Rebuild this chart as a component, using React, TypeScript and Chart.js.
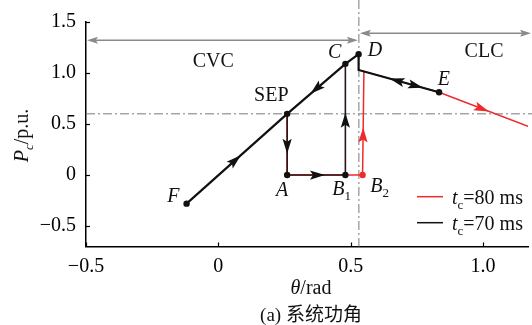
import React, { useEffect, useRef } from 'react';
import { Chart, registerables } from 'chart.js';

Chart.register(...registerables);

const SERIF = '"Liberation Serif", "Times New Roman", serif';
const CJK = '"Noto Sans CJK SC", "Noto Sans CJK JP", sans-serif';

// Axis ticks
const xTickValues = [-0.5, 0, 0.5, 1.0];
const xTickLabels = ['−0.5', '0', '0.5', '1.0'];
const yTickValues = [-0.5, 0, 0.5, 1.0, 1.5];
const yTickLabels = ['−0.5', '0', '0.5', '1.0', '1.5'];

// t_c = 70 ms trajectory (black): F -> SEP -> C -> D -> D' -> E
const blackTheta = [-0.12, 0.26, 0.48, 0.53, 0.53, 0.834];
const blackPower = [-0.28, 0.6, 1.09, 1.185, 1.03, 0.811];
// fault-on part (black): SEP -> A -> B1 -> C
const faultTheta = [0.26, 0.26, 0.48, 0.48];
const faultPower = [0.6, 0, 0, 1.09];
// t_c = 80 ms trajectory (red): SEP -> A -> B1 -> B2 -> up -> E -> beyond
const redTheta = [0.26, 0.26, 0.48, 0.545, 0.55, 0.834, 1.17];
const redPower = [0.6, 0, 0, 0, 1.016, 0.811, 0.477];

// Marked points F, SEP, A, B1, C, D, E
const markerTheta = [-0.12, 0.26, 0.26, 0.48, 0.48, 0.53, 0.834];
const markerPower = [-0.28, 0.6, 0, 0, 1.09, 1.185, 0.811];
// Marked point B2 (red)
const redMarkerTheta = [0.545];
const redMarkerPower = [0];

// Reference lines
const sepPower = 0.6;
const boundaryTheta = 0.531;

const RED = '#ee2a2a';
const BLACK = '#111111';
const GRAY = '#8a8a8a';
const FS = 20;

type Part = [string, string];

// arrowheads: segment start, segment end, fraction along segment for the tip
const arrowSpecs: { from: number[]; to: number[]; t: number; color: string }[] = [
  { from: [-0.12, -0.28], to: [0.26, 0.6], t: 0.54, color: BLACK },
  { from: [0.48, 1.09], to: [0.26, 0.6], t: 0.6, color: BLACK },
  { from: [0.26, 0.6], to: [0.26, 0], t: 0.65, color: BLACK },
  { from: [0.26, 0], to: [0.48, 0], t: 0.65, color: BLACK },
  { from: [0.48, 0], to: [0.48, 1.09], t: 0.56, color: BLACK },
  { from: [0.834, 0.811], to: [0.53, 1.03], t: 0.615, color: BLACK },
  { from: [0.53, 1.03], to: [0.834, 0.811], t: 0.8, color: BLACK },
  { from: [0.545, 0], to: [0.55, 1.016], t: 0.46, color: RED },
  { from: [0.834, 0.811], to: [1.17, 0.477], t: 0.56, color: RED },
];

const textLabels: { parts: Part[]; x: number; y: number }[] = [
  { parts: [['CVC', 'n']], x: -0.019, y: 1.124 },
  { parts: [['CLC', 'n']], x: 1.004, y: 1.217 },
  { parts: [['SEP', 'n']], x: 0.2, y: 0.793 },
  { parts: [['C', 'i']], x: 0.44, y: 1.212 },
  { parts: [['D', 'i']], x: 0.592, y: 1.227 },
  { parts: [['E', 'i']], x: 0.852, y: 0.949 },
  { parts: [['F', 'i']], x: -0.17, y: -0.198 },
  { parts: [['A', 'i']], x: 0.241, y: -0.14 },
  { parts: [['B', 'i'], ['1', 's']], x: 0.466, y: -0.129 },
  { parts: [['B', 'i'], ['2', 's']], x: 0.609, y: -0.1 },
];

function drawParts(ctx: CanvasRenderingContext2D, parts: Part[], cx: number, baseline: number, size: number, align = 'center') {
  const items = parts.map(([t, s]) => {
    const sub = s.startsWith('s');
    const it = s.includes('i');
    const sz = sub ? Math.round(size * 0.65) : size;
    return { t, sub, font: `${it ? 'italic ' : ''}${sz}px ${SERIF}`, w: 0 };
  });
  let w = 0;
  items.forEach((f) => {
    ctx.font = f.font;
    f.w = ctx.measureText(f.t).width;
    w += f.w;
  });
  let x = align === 'center' ? cx - w / 2 : cx;
  ctx.textAlign = 'left';
  ctx.textBaseline = 'alphabetic';
  items.forEach((f) => {
    ctx.font = f.font;
    ctx.fillText(f.t, x, baseline + (f.sub ? size * 0.25 : 0));
    x += f.w;
  });
}

function arrowHead(ctx: CanvasRenderingContext2D, x: number, y: number, ang: number, len: number, half: number, color: string) {
  ctx.save();
  ctx.translate(x, y);
  ctx.rotate(ang);
  ctx.beginPath();
  ctx.moveTo(0, 0);
  ctx.lineTo(-len, -half);
  ctx.lineTo(-len * 0.8, 0);
  ctx.lineTo(-len, half);
  ctx.closePath();
  ctx.fillStyle = color;
  ctx.fill();
  ctx.restore();
}

const overlay = {
  id: 'overlay',
  beforeDatasetsDraw(chart: any) {
    const { ctx, chartArea, scales } = chart;
    const xs = scales.x;
    const ys = scales.y;
    ctx.save();
    ctx.strokeStyle = '#7a7a7a';
    ctx.lineWidth = 1;
    ctx.setLineDash([9, 3, 2, 3]);
    const yp = ys.getPixelForValue(sepPower);
    ctx.beginPath();
    ctx.moveTo(chartArea.left, yp);
    ctx.lineTo(chart.width, yp);
    ctx.stroke();
    const xp = xs.getPixelForValue(boundaryTheta);
    ctx.beginPath();
    ctx.moveTo(xp, 0);
    ctx.lineTo(xp, chartArea.bottom);
    ctx.stroke();
    ctx.restore();
  },
  afterDatasetsDraw(chart: any) {
    const { ctx, chartArea, scales } = chart;
    const xs = scales.x;
    const ys = scales.y;
    const px = (v: number) => xs.getPixelForValue(v);
    const py = (v: number) => ys.getPixelForValue(v);
    ctx.save();

    // arrowheads on trajectories
    arrowSpecs.forEach((a) => {
      const x0 = px(a.from[0]), y0 = py(a.from[1]);
      const x1 = px(a.to[0]), y1 = py(a.to[1]);
      const tx = x0 + (x1 - x0) * a.t;
      const ty = y0 + (y1 - y0) * a.t;
      arrowHead(ctx, tx, ty, Math.atan2(y1 - y0, x1 - x0), 15, 4.6, a.color);
    });

    // gray region arrows
    ctx.strokeStyle = GRAY;
    ctx.lineWidth = 1.5;
    const cvcY = py(1.32);
    const clcY = py(1.39);
    const bx = px(boundaryTheta);
    ctx.beginPath();
    ctx.moveTo(chartArea.left + 4, cvcY);
    ctx.lineTo(bx - 4, cvcY);
    ctx.stroke();
    arrowHead(ctx, chartArea.left + 1, cvcY, Math.PI, 11, 3.5, GRAY);
    arrowHead(ctx, bx - 1, cvcY, 0, 11, 3.5, GRAY);
    ctx.beginPath();
    ctx.moveTo(bx + 4, clcY);
    ctx.lineTo(chart.width - 4, clcY);
    ctx.stroke();
    arrowHead(ctx, bx + 1, clcY, Math.PI, 11, 3.5, GRAY);
    arrowHead(ctx, chart.width - 1, clcY, 0, 11, 3.5, GRAY);

    // point / region labels
    ctx.fillStyle = '#111';
    textLabels.forEach((l) => {
      drawParts(ctx, l.parts, px(l.x), py(l.y) + FS * 0.33, FS);
    });

    // inward tick marks
    ctx.strokeStyle = '#000';
    ctx.lineWidth = 1.2;
    xTickValues.forEach((v) => {
      const x = Math.round(px(v)) + 0.5;
      ctx.beginPath();
      ctx.moveTo(x, chartArea.bottom);
      ctx.lineTo(x, chartArea.bottom - 4);
      ctx.stroke();
    });
    yTickValues.forEach((v) => {
      const y = Math.round(py(v)) + 0.5;
      ctx.beginPath();
      ctx.moveTo(chartArea.left, y);
      ctx.lineTo(chartArea.left + 4, y);
      ctx.stroke();
    });

    // legend
    const legY1 = 196.7;
    const legY2 = 222.7;
    ctx.lineWidth = 1.5;
    ctx.strokeStyle = RED;
    ctx.beginPath();
    ctx.moveTo(417, legY1);
    ctx.lineTo(443, legY1);
    ctx.stroke();
    ctx.strokeStyle = BLACK;
    ctx.beginPath();
    ctx.moveTo(417, legY2);
    ctx.lineTo(443, legY2);
    ctx.stroke();
    ctx.fillStyle = '#111';
    drawParts(ctx, [['t', 'i'], ['c', 's'], ['=80 ms', 'n']], 452, legY1 + 7, FS, 'left');
    drawParts(ctx, [['t', 'i'], ['c', 's'], ['=70 ms', 'n']], 452, legY2 + 7, FS, 'left');

    // axis titles
    drawParts(ctx, [['θ', 'i'], ['/rad', 'n']], 311, 294, FS);
    ctx.save();
    ctx.translate(28, 135.5);
    ctx.rotate(-Math.PI / 2);
    drawParts(ctx, [['P', 'i'], ['c', 'si'], ['/p.u.', 'n']], 0, 0, FS);
    ctx.restore();

    // caption
    ctx.font = `${FS - 1}px ${SERIF}`;
    const capA = '(a) ';
    const capB = '系统功角';
    const wA = ctx.measureText(capA).width;
    ctx.font = `${FS - 1}px ${CJK}`;
    const wB = ctx.measureText(capB).width;
    const cx = 311 - (wA + wB) / 2;
    ctx.textAlign = 'left';
    ctx.textBaseline = 'alphabetic';
    ctx.font = `${FS - 1}px ${SERIF}`;
    ctx.fillText(capA, cx, 321);
    ctx.font = `${FS - 1}px ${CJK}`;
    ctx.fillText(capB, cx + wA, 321);

    ctx.restore();
  },
};

const zip = (xs: number[], ys: number[]) => xs.map((x, i) => ({ x, y: ys[i] }));

const tickLabel = (vals: number[], labels: string[]) => (v: any) => {
  const i = vals.findIndex((t) => Math.abs(t - Number(v)) < 1e-9);
  return i >= 0 ? labels[i] : '';
};

export default function App() {
  const ref = useRef<HTMLCanvasElement | null>(null);
  useEffect(() => {
    document.body.style.margin = '0';
    const canvas = ref.current;
    if (!canvas) return;
    const chart = new Chart(canvas, {
      type: 'scatter',
      data: {
        datasets: [
          {
            label: 'tc=80 ms',
            data: zip(redTheta, redPower),
            showLine: true,
            borderColor: RED,
            borderWidth: 1.5,
            pointRadius: 0,
            order: 5,
          },
          {
            label: 'tc=70 ms',
            data: zip(blackTheta, blackPower),
            showLine: true,
            borderColor: BLACK,
            borderWidth: 2.2,
            pointRadius: 0,
            order: 3,
          },
          {
            label: 'fault',
            data: zip(faultTheta, faultPower),
            showLine: true,
            borderColor: '#2a1616',
            borderWidth: 1.6,
            pointRadius: 0,
            order: 3,
          },
          {
            label: 'markers',
            data: zip(markerTheta, markerPower),
            showLine: false,
            pointRadius: 3.2,
            pointBackgroundColor: BLACK,
            pointBorderWidth: 0,
            order: 1,
          },
          {
            label: 'B2',
            data: zip(redMarkerTheta, redMarkerPower),
            showLine: false,
            pointRadius: 3.2,
            pointBackgroundColor: RED,
            pointBorderWidth: 0,
            order: 1,
          },
        ],
      },
      options: {
        animation: false,
        responsive: false,
        devicePixelRatio: 1,
        layout: { padding: { top: 21, right: 0, left: 0, bottom: 0 } },
        plugins: { legend: { display: false }, tooltip: { enabled: false } },
        scales: {
          x: {
            type: 'linear',
            min: -0.5,
            max: 1.17,
            afterBuildTicks: (s: any) => {
              s.ticks = xTickValues.map((v) => ({ value: v }));
            },
            afterFit: (s: any) => {
              s.height = 78.5;
            },
            border: { color: '#000', width: 1.5 },
            grid: { display: false, drawTicks: false },
            ticks: {
              color: '#000',
              padding: 8,
              font: { family: SERIF, size: FS },
              maxRotation: 0,
              autoSkip: false,
              callback: tickLabel(xTickValues, xTickLabels),
            },
          },
          y: {
            type: 'linear',
            min: -0.7,
            max: 1.5,
            afterBuildTicks: (s: any) => {
              s.ticks = yTickValues.map((v) => ({ value: v }));
            },
            afterFit: (s: any) => {
              s.width = 86;
            },
            border: { color: '#000', width: 1.5 },
            grid: { display: false, drawTicks: false },
            ticks: {
              color: '#000',
              padding: 10,
              font: { family: SERIF, size: FS },
              autoSkip: false,
              callback: tickLabel(yTickValues, yTickLabels),
            },
          },
        },
      },
      plugins: [overlay],
    });
    return () => chart.destroy();
  }, []);
  return (
    <div style={{ width: 532, height: 325, background: '#fff' }}>
      <canvas ref={ref} width={532} height={325} style={{ display: 'block' }} />
    </div>
  );
}
